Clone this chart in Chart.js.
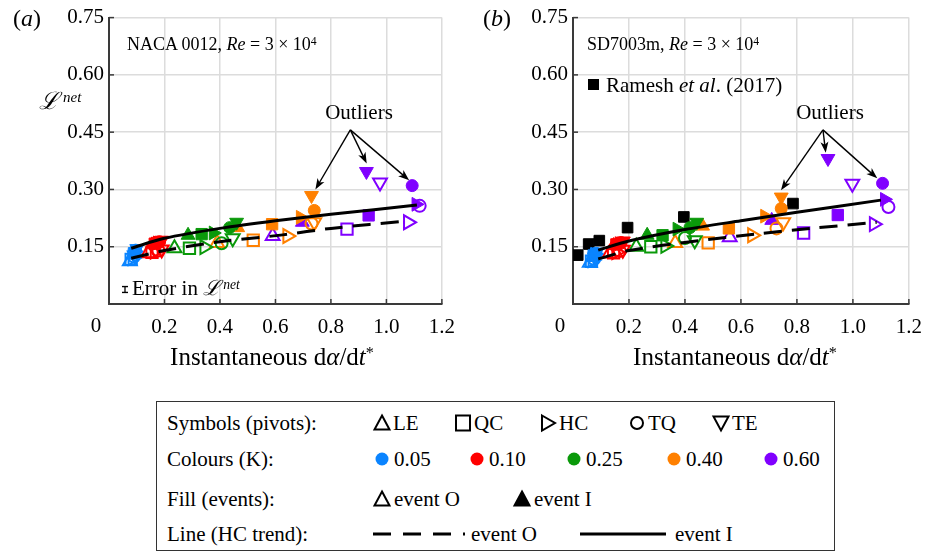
<!DOCTYPE html>
<html>
<head>
<meta charset="utf-8">
<script src="https://cdn.jsdelivr.net/npm/chart.js@4.4.0/dist/chart.umd.min.js"></script>
<style>
body { margin: 0; background: #fff; width: 933px; height: 551px; overflow: hidden; position: relative;
       font-family: "Liberation Serif", "Times New Roman", serif; color: #000; }
.panel { position: absolute; top: 0; height: 380px; }
.t { position: absolute; white-space: nowrap; line-height: 1; transform: translateY(-50%); }
.sup { position: relative; top: -0.45em; font-size: 0.65em; }
.cal { font-family: "DejaVu Serif", serif; font-style: italic; }
.legend { position: absolute; left: 156px; top: 401px; width: 677px; height: 148px; border: 1.5px solid #333; }
.legend .t { font-size: 21px; }
.legend svg { position: absolute; transform: translate(-50%, -50%); overflow: visible; }
</style>
</head>
<body>

<div class="panel" style="left:0;width:466px"><canvas id="chartA" width="466" height="380"></canvas></div>
<div class="panel" style="left:466px;width:467px"><canvas id="chartB" width="467" height="380"></canvas></div>

<!-- textos dos painéis -->
<div class="t" style="left:13px;top:18px;font-size:24px">(<i>a</i>)</div>
<div class="t" style="left:483px;top:18px;font-size:24px">(<i>b</i>)</div>
<div class="t" style="left:39px;top:101px;font-size:24px"><span class="cal">ℒ</span><span class="sup" style="font-style:italic;font-size:15px;margin-left:4px">net</span></div>

<div class="t" style="left:127px;top:44px;font-size:18px">NACA 0012, <i>Re</i> = 3 × 10<span class="sup">4</span></div>
<div class="t" style="left:587px;top:44px;font-size:18px">SD7003m, <i>Re</i> = 3 × 10<span class="sup">4</span></div>
<div class="t" style="left:606px;top:85px;font-size:21px">Ramesh <i>et al</i>. (2017)</div>
<div style="position:absolute;left:588px;top:79px;width:11px;height:11px;background:#000"></div>

<div class="t" style="left:359px;top:112px;font-size:21px;transform:translate(-50%,-50%)">Outliers</div>
<div class="t" style="left:830px;top:112px;font-size:21px;transform:translate(-50%,-50%)">Outliers</div>

<div class="t" style="left:121px;top:288px;font-size:21px">
  <svg width="8" height="8" style="vertical-align:middle;margin-right:3px"><path d="M1 1H7M4 1V7M1 7H7" stroke="#000" stroke-width="1.3" fill="none"/></svg>Error in <span class="cal">ℒ</span><span class="sup" style="font-style:italic;margin-left:3px">net</span></div>

<div class="t" style="left:272px;top:356px;font-size:25px;transform:translate(-50%,-50%)">Instantaneous d<i>α</i>/d<i>t</i><span class="sup">*</span></div>
<div class="t" style="left:735px;top:356px;font-size:25px;transform:translate(-50%,-50%)">Instantaneous d<i>α</i>/d<i>t</i><span class="sup">*</span></div>

<!-- legenda -->
<div class="legend" id="legend"></div>

<script>
// Dados: [pivô, evento, dα/dt*, L_net]
const pivots = ['LE', 'QC', 'HC', 'TQ', 'TE'];
const kLabels = ['0.05', '0.10', '0.25', '0.40', '0.60'];

// Painel (a) NACA 0012
const nacaK005 = [
    ['LE', 'O', 0.075, 0.112], ['LE', 'I', 0.085, 0.128], ['QC', 'O', 0.080, 0.117], ['QC', 'I', 0.090, 0.133],
    ['HC', 'O', 0.085, 0.120], ['HC', 'I', 0.094, 0.137], ['TQ', 'O', 0.090, 0.124], ['TQ', 'I', 0.096, 0.141],
    ['TE', 'O', 0.093, 0.127], ['TE', 'I', 0.100, 0.145]
];
const nacaK010 = [
    ['LE', 'O', 0.140, 0.133], ['LE', 'I', 0.155, 0.155], ['QC', 'O', 0.155, 0.135], ['QC', 'I', 0.165, 0.158],
    ['HC', 'O', 0.165, 0.137], ['HC', 'I', 0.175, 0.160], ['TQ', 'O', 0.178, 0.140], ['TQ', 'I', 0.182, 0.163],
    ['TE', 'O', 0.190, 0.143], ['TE', 'I', 0.190, 0.167]
];
const nacaK025 = [
    ['LE', 'O', 0.236, 0.146], ['LE', 'I', 0.285, 0.180], ['QC', 'O', 0.290, 0.146], ['QC', 'I', 0.334, 0.183],
    ['HC', 'O', 0.344, 0.149], ['HC', 'I', 0.376, 0.186], ['TQ', 'O', 0.406, 0.159], ['TQ', 'I', 0.435, 0.200],
    ['TE', 'O', 0.446, 0.172], ['TE', 'I', 0.460, 0.214]
];
const nacaK040 = [
    ['LE', 'O', 0.390, 0.160], ['LE', 'I', 0.464, 0.200], ['QC', 'O', 0.520, 0.167], ['QC', 'I', 0.588, 0.209],
    ['HC', 'O', 0.643, 0.178], ['HC', 'I', 0.690, 0.227], ['TQ', 'O', 0.730, 0.211], ['TQ', 'I', 0.740, 0.245],
    ['TE', 'O', 0.740, 0.214], ['TE', 'I', 0.730, 0.284]
];
const nacaK060 = [
    ['LE', 'O', 0.590, 0.178], ['LE', 'I', 0.697, 0.214], ['QC', 'O', 0.858, 0.196], ['QC', 'I', 0.936, 0.232],
    ['HC', 'O', 1.078, 0.214], ['HC', 'I', 1.107, 0.261], ['TQ', 'O', 1.120, 0.257], ['TQ', 'I', 1.093, 0.310],
    ['TE', 'O', 0.977, 0.318], ['TE', 'I', 0.928, 0.347]
];
const nacaTrendO = [[0.08, 0.120], [0.2, 0.140], [0.4, 0.163], [0.626, 0.181], [0.8, 0.198], [1.078, 0.218]];
const nacaTrendI = [[0.08, 0.146], [0.2, 0.172], [0.4, 0.198], [0.6, 0.218], [0.8, 0.235], [1.11, 0.259]];
const nacaOutlierFrom = [0.87, 0.456];
const nacaOutlierTo = [[0.744, 0.300], [0.929, 0.368], [1.082, 0.324]];

// Painel (b) SD7003m
const sdK005 = [
    ['LE', 'O', 0.060, 0.108], ['LE', 'I', 0.068, 0.122], ['QC', 'O', 0.066, 0.112], ['QC', 'I', 0.074, 0.127],
    ['HC', 'O', 0.070, 0.115], ['HC', 'I', 0.078, 0.130], ['TQ', 'O', 0.075, 0.118], ['TQ', 'I', 0.082, 0.133],
    ['TE', 'O', 0.080, 0.121], ['TE', 'I', 0.086, 0.136]
];
const sdK010 = [
    ['LE', 'O', 0.130, 0.132], ['LE', 'I', 0.145, 0.153], ['QC', 'O', 0.145, 0.134], ['QC', 'I', 0.155, 0.156],
    ['HC', 'O', 0.155, 0.136], ['HC', 'I', 0.165, 0.158], ['TQ', 'O', 0.167, 0.139], ['TQ', 'I', 0.172, 0.161],
    ['TE', 'O', 0.178, 0.142], ['TE', 'I', 0.180, 0.165]
];
const sdK025 = [
    ['LE', 'O', 0.226, 0.150], ['LE', 'I', 0.265, 0.180], ['QC', 'O', 0.278, 0.150], ['QC', 'I', 0.320, 0.180],
    ['HC', 'O', 0.330, 0.152], ['HC', 'I', 0.372, 0.196], ['TQ', 'O', 0.400, 0.173], ['TQ', 'I', 0.418, 0.200],
    ['TE', 'O', 0.435, 0.167], ['TE', 'I', 0.442, 0.214]
];
const sdK040 = [
    ['LE', 'O', 0.365, 0.160], ['LE', 'I', 0.463, 0.204], ['QC', 'O', 0.483, 0.160], ['QC', 'I', 0.557, 0.198],
    ['HC', 'O', 0.640, 0.180], ['HC', 'I', 0.685, 0.230], ['TQ', 'O', 0.727, 0.198], ['TQ', 'I', 0.744, 0.250],
    ['TE', 'O', 0.751, 0.214], ['TE', 'I', 0.744, 0.280]
];
const sdK060 = [
    ['LE', 'O', 0.560, 0.175], ['LE', 'I', 0.710, 0.219], ['QC', 'O', 0.824, 0.186], ['QC', 'I', 0.946, 0.233],
    ['HC', 'O', 1.075, 0.209], ['HC', 'I', 1.113, 0.274], ['TQ', 'O', 1.127, 0.254], ['TQ', 'I', 1.106, 0.316],
    ['TE', 'O', 0.998, 0.315], ['TE', 'I', 0.911, 0.381]
];
const ramesh2017 = [[0.017, 0.128], [0.056, 0.157], [0.094, 0.166], [0.195, 0.200], [0.396, 0.228], [0.786, 0.263]];
const sdTrendO = [[0.09, 0.118], [0.2, 0.140], [0.44, 0.165], [0.65, 0.183], [0.85, 0.198], [1.085, 0.214]];
const sdTrendI = [[0.09, 0.141], [0.2, 0.165], [0.4, 0.195], [0.6, 0.218], [0.8, 0.240], [1.10, 0.272]];
const sdOutlierFrom = [0.893, 0.456];
const sdOutlierTo = [[0.743, 0.298], [0.903, 0.396], [1.087, 0.329]];

// Estilos
const kColours = ['#0a84ff', '#ff0000', '#0a990a', '#ff8000', '#8000ff'];
const shapes = {
    LE: { style: 'triangle', rot: 0, r: 8 },
    QC: { style: 'rect', rot: 0, r: 8 },
    HC: { style: 'triangle', rot: 90, r: 8 },
    TQ: { style: 'circle', rot: 0, r: 6 },
    TE: { style: 'triangle', rot: 180, r: 8 }
};
const SERIF = '"Liberation Serif", "Times New Roman", serif';
const TICK_SIZE = 21;

// Montar dataset de marcadores para um K
const datasetK = (linhas, cor) => ({
    data: linhas.map(([p, e, x, y]) => ({ x, y, p, e })),
    pointStyle: ctx => shapes[ctx.raw.p].style,
    rotation: ctx => shapes[ctx.raw.p].rot,
    pointRadius: ctx => shapes[ctx.raw.p].r,
    pointBackgroundColor: ctx => ctx.raw.e === 'I' ? cor : 'rgba(0,0,0,0)',
    pointBorderColor: cor,
    pointBorderWidth: ctx => ctx.raw.e === 'I' ? 1 : 2,
    order: 5
});

const datasetTrend = (pontos, tracejado) => ({
    data: pontos.map(([x, y]) => ({ x, y })),
    showLine: true,
    borderColor: '#000',
    borderWidth: 3,
    borderDash: tracejado ? [18, 10] : [],
    pointRadius: 0,
    tension: 0.3,
    fill: false,
    order: 1
});

// Plugin: marcas internas, rótulo "0" e setas dos outliers
const extrasPlugin = {
    id: 'extras',
    afterDraw(chart) {
        const { ctx, scales: { x, y } } = chart;
        const o = chart.options.plugins.extras;
        ctx.save();
        ctx.strokeStyle = '#3a3a3a';
        ctx.lineWidth = 1.5;
        y.ticks.forEach(t => {
            if (t.value < 1e-9) return;
            const py = y.getPixelForValue(t.value);
            ctx.beginPath(); ctx.moveTo(x.left, py); ctx.lineTo(x.left + 5, py); ctx.stroke();
        });
        x.ticks.forEach(t => {
            if (t.value < 1e-9) return;
            const px = x.getPixelForValue(t.value);
            ctx.beginPath(); ctx.moveTo(px, y.bottom); ctx.lineTo(px, y.bottom - 5); ctx.stroke();
        });
        // rótulo 0 deslocado
        ctx.fillStyle = '#000';
        ctx.font = TICK_SIZE + 'px ' + SERIF;
        ctx.textAlign = 'center';
        ctx.textBaseline = 'middle';
        ctx.fillText('0', x.left - 13, y.bottom + 22);
        // setas
        const fx = x.getPixelForValue(o.from[0]), fy = y.getPixelForValue(o.from[1]);
        ctx.strokeStyle = '#000';
        ctx.lineWidth = 1.4;
        o.to.forEach(([vx, vy]) => {
            const tx = x.getPixelForValue(vx), ty = y.getPixelForValue(vy);
            const ang = Math.atan2(ty - fy, tx - fx);
            ctx.beginPath(); ctx.moveTo(fx, fy); ctx.lineTo(tx - 6 * Math.cos(ang), ty - 6 * Math.sin(ang)); ctx.stroke();
            ctx.beginPath();
            ctx.moveTo(tx, ty);
            ctx.lineTo(tx - 11 * Math.cos(ang) + 4 * Math.sin(ang), ty - 11 * Math.sin(ang) - 4 * Math.cos(ang));
            ctx.lineTo(tx - 8 * Math.cos(ang), ty - 8 * Math.sin(ang));
            ctx.lineTo(tx - 11 * Math.cos(ang) - 4 * Math.sin(ang), ty - 11 * Math.sin(ang) + 4 * Math.cos(ang));
            ctx.closePath();
            ctx.fill();
        });
        ctx.restore();
    }
};

const criarPainel = (id, grupos, tendO, tendI, extras, yWidth, padRight) => {
    const datasets = [datasetTrend(tendI, false), datasetTrend(tendO, true)];
    grupos.forEach((g, i) => datasets.push(datasetK(g, kColours[i])));
    if (extras.ramesh) {
        datasets.push({
            data: extras.ramesh.map(([x, y]) => ({ x, y })),
            pointStyle: 'rect', pointRadius: 7.5,
            pointBackgroundColor: '#000', pointBorderColor: '#000', pointBorderWidth: 1,
            order: 6
        });
    }
    return new Chart(document.getElementById(id), {
        type: 'scatter',
        data: { datasets },
        options: {
            responsive: false,
            animation: false,
            events: [],
            layout: { padding: { left: 0, right: padRight, top: 16, bottom: 0 } },
            plugins: { legend: { display: false }, tooltip: { enabled: false }, extras },
            scales: {
                x: {
                    min: 0, max: 1.2,
                    afterFit: s => { s.height = 76; },
                    grid: { color: '#dcdcdc', lineWidth: 1.5, drawTicks: false },
                    border: { color: '#3a3a3a', width: 2 },
                    ticks: {
                        stepSize: 0.2, padding: 11, color: '#000',
                        font: { family: SERIF, size: TICK_SIZE },
                        callback: v => v < 1e-9 ? '' : v.toFixed(1)
                    }
                },
                y: {
                    min: 0, max: 0.75,
                    afterFit: s => { s.width = yWidth; },
                    grid: { color: '#dcdcdc', lineWidth: 1.5, drawTicks: false },
                    border: { color: '#3a3a3a', width: 2 },
                    ticks: {
                        stepSize: 0.15, padding: 5, color: '#000',
                        font: { family: SERIF, size: TICK_SIZE },
                        callback: v => v < 1e-9 ? '' : v.toFixed(2)
                    }
                }
            }
        },
        plugins: [extrasPlugin]
    });
};

criarPainel('chartA', [nacaK005, nacaK010, nacaK025, nacaK040, nacaK060], nacaTrendO, nacaTrendI,
    { from: nacaOutlierFrom, to: nacaOutlierTo }, 109, 10);
criarPainel('chartB', [sdK005, sdK010, sdK025, sdK040, sdK060], sdTrendO, sdTrendI,
    { from: sdOutlierFrom, to: sdOutlierTo, ramesh: ramesh2017 }, 107, 15);

// Legenda
const svgSimbolo = (pivo, cheio, cor) => {
    const f = cheio ? cor : 'none';
    const a = `fill="${f}" stroke="${cor}" stroke-width="2"`;
    if (pivo === 'LE') return `<polygon points="0,-7.5 7.5,6.5 -7.5,6.5" ${a}/>`;
    if (pivo === 'QC') return `<rect x="-7" y="-7.5" width="14" height="15" ${a}/>`;
    if (pivo === 'HC') return `<polygon points="-6,-7.5 7,0 -6,7.5" ${a}/>`;
    if (pivo === 'TQ') return `<circle r="6" ${a}/>`;
    return `<polygon points="-7.5,-6.5 7.5,-6.5 0,7.5" ${a}/>`;
};
const addSvg = (el, cx, cy, w, h, inner) => {
    el.insertAdjacentHTML('beforeend',
        `<svg width="${w}" height="${h}" viewBox="${-w / 2} ${-h / 2} ${w} ${h}" style="left:${cx}px;top:${cy}px">${inner}</svg>`);
};
const addTexto = (el, x, y, html) => {
    el.insertAdjacentHTML('beforeend', `<div class="t" style="left:${x}px;top:${y}px">${html}</div>`);
};

const lg = document.getElementById('legend');
const L0 = 156, T0 = 401;
const linhasY = [422, 458, 498, 533].map(v => v - T0);
addTexto(lg, 166 - L0, linhasY[0], 'Symbols (pivots):');
addTexto(lg, 166 - L0, linhasY[1], 'Colours (K):');
addTexto(lg, 166 - L0, linhasY[2], 'Fill (events):');
addTexto(lg, 166 - L0, linhasY[3], 'Line (HC trend):');

const simbX = [381, 462, 547, 636, 720];
pivots.forEach((p, i) => {
    addSvg(lg, simbX[i] - L0, linhasY[0], 20, 20, svgSimbolo(p, false, '#000'));
    addTexto(lg, simbX[i] + 11 - L0, linhasY[0], p);
});
const corX = [381, 476, 573, 673, 770];
kLabels.forEach((k, i) => {
    addSvg(lg, corX[i] - L0, linhasY[1], 20, 20, `<circle r="6.5" fill="${kColours[i]}"/>`);
    addTexto(lg, corX[i] + 12 - L0, linhasY[1], k);
});
addSvg(lg, 381 - L0, linhasY[2], 20, 20, svgSimbolo('LE', false, '#000'));
addTexto(lg, 393 - L0, linhasY[2], 'event O');
addSvg(lg, 521 - L0, linhasY[2], 20, 20, svgSimbolo('LE', true, '#000'));
addTexto(lg, 533 - L0, linhasY[2], 'event I');
addSvg(lg, 418 - L0, linhasY[3], 92, 6, '<line x1="-46" y1="0" x2="46" y2="0" stroke="#000" stroke-width="3" stroke-dasharray="18 12"/>');
addTexto(lg, 470 - L0, linhasY[3], 'event O');
addSvg(lg, 622 - L0, linhasY[3], 86, 6, '<line x1="-43" y1="0" x2="43" y2="0" stroke="#000" stroke-width="3"/>');
addTexto(lg, 674 - L0, linhasY[3], 'event I');
</script>
</body>
</html>
